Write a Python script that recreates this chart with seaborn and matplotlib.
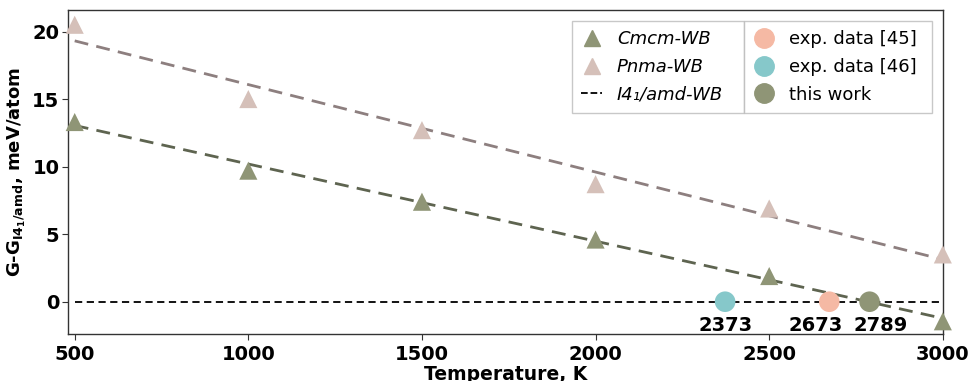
import numpy as np
import pandas as pd
import matplotlib
matplotlib.use("Agg")
import matplotlib.pyplot as plt
import seaborn as sns
from matplotlib.lines import Line2D

# ---- data ----
temperatures = [500, 1000, 1500, 2000, 2500, 3000]
cmcm_values = [13.3, 9.7, 7.4, 4.6, 1.9, -1.45]
pnma_values = [20.5, 15.0, 12.7, 8.7, 6.9, 3.5]
transition_T = [2373, 2673, 2789]
transition_labels = ["exp. data [46]", "exp. data [45]", "this work"]
x_ticks = [500, 1000, 1500, 2000, 2500, 3000]
y_ticks = [0, 5, 10, 15, 20]

c_cmcm = "#8f9576"
c_pnma = "#d5c0b9"
c_cmcm_fit = "#5e6450"
c_pnma_fit = "#8d7f7f"
c_exp45 = "#f5b9a4"
c_exp46 = "#86c8ca"
c_this = "#8f9576"

sns.set_style("ticks")
plt.rcParams["font.family"] = ["DejaVu Sans"]
plt.rcParams["text.color"] = "black"
plt.rcParams["axes.labelcolor"] = "black"
plt.rcParams["xtick.color"] = "black"
plt.rcParams["ytick.color"] = "black"

fig = plt.figure(figsize=(9.68, 3.81), dpi=100)
ax = fig.add_axes([0.070, 0.123, 0.904, 0.851])

df = pd.DataFrame({"T": temperatures * 2,
                   "G": cmcm_values + pnma_values,
                   "phase": ["Cmcm"] * 6 + ["Pnma"] * 6})

# fits
sns.regplot(x=temperatures, y=pnma_values, ax=ax, scatter=False, ci=None,
            line_kws=dict(color=c_pnma_fit, ls=(0, (5, 3)), lw=2))
sns.regplot(x=temperatures, y=cmcm_values, ax=ax, scatter=False, ci=None,
            line_kws=dict(color=c_cmcm_fit, ls=(0, (5, 3)), lw=2))

# reference line
ax.plot([temperatures[0], temperatures[-1]], [0, 0], color="black", ls=(0, (4, 2.5)), lw=1.3, zorder=2)

# triangles
sns.scatterplot(data=df, x="T", y="G", hue="phase", palette={"Cmcm": c_cmcm, "Pnma": c_pnma},
                marker="^", s=170, edgecolor="none", ax=ax, legend=False, zorder=3, clip_on=False)

# transition points
tcolors = [c_exp46, c_exp45, c_this]
tdf = pd.DataFrame({"T": transition_T, "G": [0, 0, 0], "src": transition_labels})
sns.scatterplot(data=tdf, x="T", y="G", hue="src", palette=dict(zip(transition_labels, tcolors)),
                s=220, edgecolor="none", ax=ax, legend=False, zorder=4)
label_shift = [0, -10, 8]
for t, dx in zip(transition_T, label_shift):
    ax.annotate(str(t), (t, 0), xytext=(dx, -10), textcoords="offset points",
                ha="center", va="top", fontsize=14, fontweight="bold")

ax.set_xlim(480, 3000)
ax.set_ylim(-2.4, 21.6)
ax.set_xticks(x_ticks)
ax.set_yticks(y_ticks)
for lab in ax.get_xticklabels() + ax.get_yticklabels():
    lab.set_fontweight("bold")
    lab.set_fontsize(14)
ax.set_xlabel("Temperature, K", fontsize=13.5, fontweight="bold", labelpad=1)
ax.set_ylabel(r"G-G$_{\mathbf{I4_1/amd}}$, meV/atom", fontsize=13, fontweight="bold", labelpad=3)
for sp in ax.spines.values():
    sp.set_visible(True)
    sp.set_color("#333333")
    sp.set_linewidth(1.0)
ax.tick_params(length=4, color="#333333")
ax.tick_params(axis="y", pad=2)

# legends
h1 = [Line2D([], [], marker="^", ls="none", color=c_cmcm, markersize=12),
      Line2D([], [], marker="^", ls="none", color=c_pnma, markersize=12),
      Line2D([], [], ls="--", color="black", lw=1.3)]
l1 = ["Cmcm-WB", "Pnma-WB", "I4\u2081/amd-WB"]
common = dict(loc="upper left", fontsize=13, frameon=True, fancybox=False, edgecolor="#bbbbbb",
              handlelength=1.2, borderpad=0.5, labelspacing=0.55, handletextpad=0.8, mode="expand",
              borderaxespad=0)
leg1 = ax.legend(h1, l1, bbox_to_anchor=(0.576, 0.966, 0.1966, 0.0), **common)
for t in leg1.get_texts():
    t.set_fontstyle("italic")
ax.add_artist(leg1)
h2 = [Line2D([], [], marker="o", ls="none", color=c, markersize=14) for c in [c_exp45, c_exp46, c_this]]
l2 = ["exp. data [45]", "exp. data [46]", "this work"]
leg2 = ax.legend(h2, l2, bbox_to_anchor=(0.7726, 0.966, 0.2149, 0.0), **common)
for lg in (leg1, leg2):
    lg.get_frame().set_linewidth(1.0)

fig.savefig("out.png", dpi=100)
